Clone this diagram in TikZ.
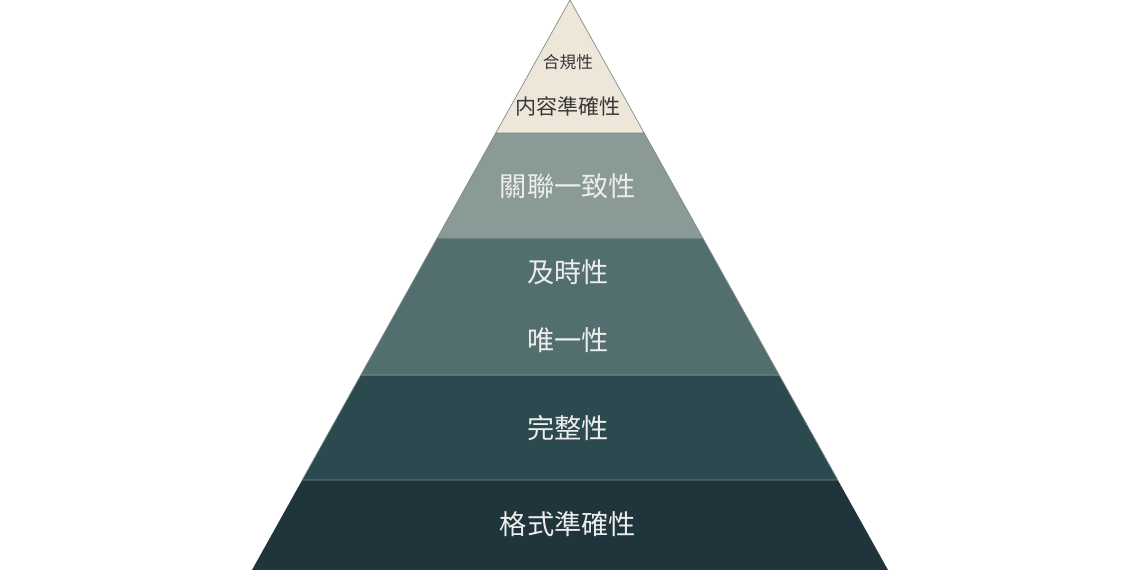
\documentclass[tikz,border=0pt]{standalone}
\usepackage{fontspec}
\newfontfamily\cjk{Noto Sans CJK TC}
\usetikzlibrary{calc}
\usepackage{xcolor}
\definecolor{PyrCream}{HTML}{EEE7D9}
\definecolor{PyrSage}{HTML}{8A9A96}
\definecolor{PyrTeal}{HTML}{536E6E}
\definecolor{PyrSlate}{HTML}{2C4950}
\definecolor{PyrInk}{HTML}{20343C}
\definecolor{PyrEdge}{HTML}{7E8E8C}
\definecolor{PyrText}{HTML}{EDEDED}

\tikzset{
  layer/.style={draw=PyrEdge,line width=0.4pt,line join=miter},
  tier/.style={font=\cjk\fontsize{15.5}{18}\selectfont,text=PyrText,inner sep=1pt},
  toptier/.style={font=\cjk\fontsize{12}{14}\selectfont,text=black!78,inner sep=1pt},
}

\begin{document}
\begin{tikzpicture}[x=0.02cm,y=-0.02cm]
  \useasboundingbox (0,0) rectangle (1140,570);

  % outline of the pyramid
  \coordinate (apex) at (570,0);
  \coordinate (bl) at (252,570);
  \coordinate (br) at (888,570);

  % layer edges
  \coordinate (l1) at ($(apex)!0.2333!(bl)$);
  \coordinate (r1) at ($(apex)!0.2333!(br)$);
  \coordinate (l2) at ($(apex)!0.4175!(bl)$);
  \coordinate (r2) at ($(apex)!0.4175!(br)$);
  \coordinate (l3) at ($(apex)!0.6579!(bl)$);
  \coordinate (r3) at ($(apex)!0.6579!(br)$);
  \coordinate (l4) at ($(apex)!0.8421!(bl)$);
  \coordinate (r4) at ($(apex)!0.8421!(br)$);

  \fill[PyrInk] (l4) -- (r4) -- (br) -- (bl) -- cycle;
  \filldraw[layer,fill=PyrSlate] (l3) -- (r3) -- (r4) -- (l4) -- cycle;
  \filldraw[layer,fill=PyrTeal] (l2) -- (r2) -- (r3) -- (l3) -- cycle;
  \filldraw[layer,fill=PyrSage] (l1) -- (r1) -- (r2) -- (l2) -- cycle;
  \filldraw[layer,fill=PyrCream] (apex) -- (r1) -- (l1) -- cycle;

  % labels
  \node[toptier,font=\cjk\fontsize{9.5}{12}\selectfont] (compliance) at (568,62) {合規性};
  \node[toptier] (content) at (568,106) {内容準確性};
  \node[tier] (relation) at (568,186) {關聯一致性};
  \node[tier] (timely) at (568,272) {及時性};
  \node[tier] (unique) at (568,340) {唯一性};
  \node[tier] (complete) at (568,428) {完整性};
  \node[tier] (format) at (568,524) {格式準確性};
\end{tikzpicture}
\end{document}
